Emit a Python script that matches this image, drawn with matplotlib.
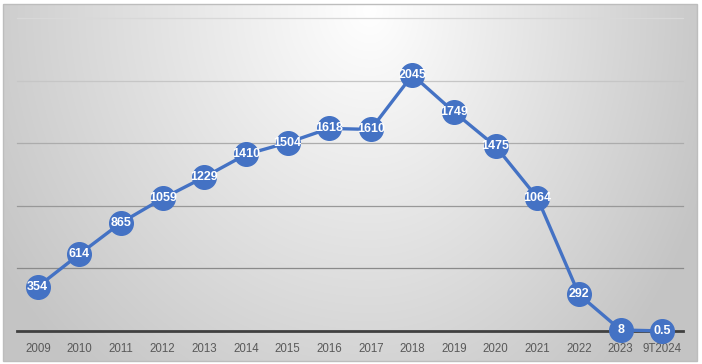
import numpy as np
import matplotlib
matplotlib.use("Agg")
import matplotlib.pyplot as plt
from matplotlib.patches import Rectangle

categories = ["2009", "2010", "2011", "2012", "2013", "2014", "2015", "2016",
              "2017", "2018", "2019", "2020", "2021", "2022", "2023", "9T2024"]
values = [354, 614, 865, 1059, 1229, 1410, 1504, 1618, 1610, 2045, 1749, 1475,
          1064, 292, 8, 0.5]
labels = ["354", "614", "865", "1059", "1229", "1410", "1504", "1618", "1610",
          "2045", "1749", "1475", "1064", "292", "8", "0.5"]
grid_levels = [500, 1000, 1500, 2000, 2500]
grid_colors = ["#8a8a8a", "#989898", "#acacac", "#c6c6c6", "#d8d8d8"]

W, H = 702, 364
fig = plt.figure(figsize=(W / 100, H / 100), dpi=100)
fig.patch.set_facecolor("white")

# background gradient panel
x0, x1, y0, y1 = 3, 697, 4, 361
bg = fig.add_axes([x0 / W, 1 - y1 / H, (x1 - x0) / W, (y1 - y0) / H], zorder=0)
xx, yy = np.meshgrid(np.arange(x0, x1), np.arange(y0, y1))
cx, cy = 370, 10
rx = np.where(xx < cx, 440, 360)
ry = 480
d = np.sqrt(((xx - cx) / rx) ** 2 + ((yy - cy) / ry) ** 2)
v = 1.0 - 0.23 * np.clip(d, 0, 1.0)
img = np.dstack([v, v, v])
bg.imshow(img, aspect="auto", interpolation="bilinear")
bg.set_axis_off()
fig.add_artist(Rectangle((x0 / W, 1 - y1 / H), (x1 - x0) / W, (y1 - y0) / H,
                         transform=fig.transFigure, fill=False,
                         edgecolor="#bdbdbd", linewidth=1.0, zorder=1))

# main axes
px0, px1, py_top, py_bot = 17, 683, 18, 331
ax = fig.add_axes([px0 / W, 1 - py_bot / H, (px1 - px0) / W, (py_bot - py_top) / H], zorder=2)
ax.patch.set_alpha(0)
xs = np.arange(len(categories))
ax.set_xlim(-0.5, len(categories) - 0.5)
ax.set_ylim(0, 2500)
for lvl, col in zip(grid_levels, grid_colors):
    ax.axhline(lvl, color=col, linewidth=0.9, zorder=1, clip_on=False)
for s in ["left", "right", "top"]:
    ax.spines[s].set_visible(False)
ax.spines["bottom"].set_color("#404040")
ax.spines["bottom"].set_linewidth(2.0)
ax.tick_params(axis="y", left=False, labelleft=False)
ax.tick_params(axis="x", bottom=False, pad=5.5, labelsize=8.3, labelcolor="#595959")
ax.set_xticks(xs)
ax.set_xticklabels(categories, fontfamily=["Liberation Sans", "DejaVu Sans"])

ax.plot(xs, values, color="#4472C4", linewidth=2.4, marker="o", markersize=17,
        markerfacecolor="#4472C4", markeredgecolor="#4472C4", clip_on=False, zorder=3)
for x, y, t in zip(xs, values, labels):
    ax.text(x, y, t, ha="center", va="center", color="white", fontsize=9,
            fontweight="bold", family=["Liberation Sans Narrow", "Liberation Sans", "DejaVu Sans"],
            zorder=4)

fig.savefig("out.png", dpi=100)
